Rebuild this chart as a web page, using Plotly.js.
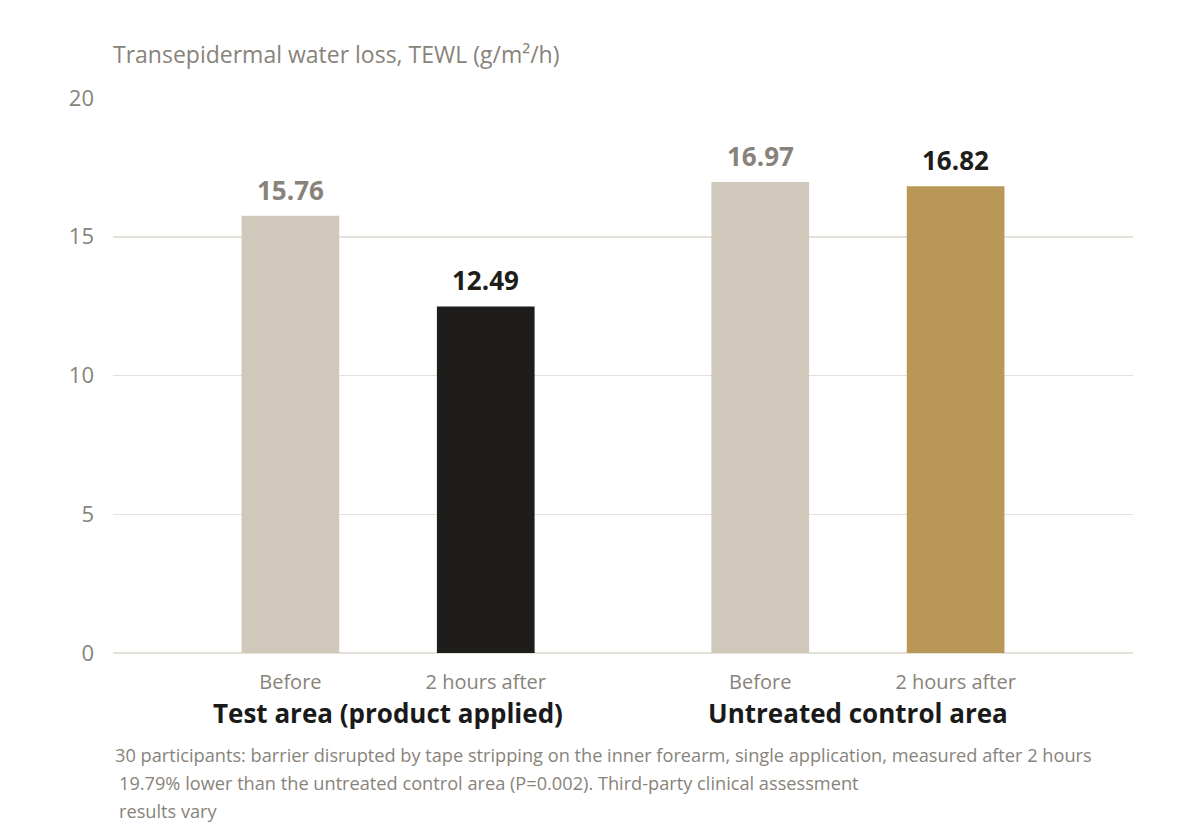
<!DOCTYPE html>
<html>
<head>
<meta charset="utf-8">
<script src="https://cdn.plot.ly/plotly-3.0.1.min.js"></script>
<style>
  html, body { margin: 0; padding: 0; background: #fff; }
  #chart { width: 1200px; height: 840px; }
</style>
</head>
<body>
<div id="chart"></div>
<script>
const groups = ['Test area (product applied)', 'Untreated control area'];
const categories = ['Before', '2 hours after'];
const tewlValues = [15.76, 12.49, 16.97, 16.82];
const valueLabels = ['15.76', '12.49', '16.97', '16.82'];
const barColors = ['#d0c9bb', '#1e1d1b', '#d0c9bb', '#b89757'];
const labelColors = ['#88837a', '#1e1d1b', '#88837a', '#1e1d1b'];
const footnoteLines = [
  '30 participants: barrier disrupted by tape stripping on the inner forearm, single application, measured after 2 hours',
  '19.79% lower than the untreated control area (P=0.002). Third-party clinical assessment',
  'results vary',
];

const FONT = 'Open Sans, Noto Sans, sans-serif';
const GREY = '#88837a';
const GROUP_STEP = 2.405;

// one x slot per bar, groups pushed apart
const xPos = [];
const tickText = [];
groups.forEach((g, gi) => {
  categories.forEach((c, ci) => {
    xPos.push(gi * GROUP_STEP + ci);
    tickText.push(c);
  });
});
const groupCenters = groups.map((g, gi) => gi * GROUP_STEP + (categories.length - 1) / 2);

// value labels above bars
const annotations = tewlValues.map((v, i) => ({
  text: valueLabels[i],
  x: xPos[i],
  xref: 'x',
  y: v,
  yref: 'y',
  xanchor: 'center',
  yanchor: 'bottom',
  yshift: 6,
  showarrow: false,
  font: { family: FONT, size: 26, color: labelColors[i], weight: 'bold' },
}));

groups.forEach((g, gi) => {
  annotations.push({
    text: g,
    x: groupCenters[gi],
    xref: 'x',
    y: -0.109,
    yref: 'paper',
    xanchor: 'center',
    yanchor: 'middle',
    showarrow: false,
    font: { family: FONT, size: 26, color: '#1a1a1a', weight: 'bold' },
  });
});

footnoteLines.forEach((line, i) => {
  annotations.push({
    text: line,
    x: 0,
    xref: 'paper',
    xshift: i === 0 ? 0 : 4,
    y: -0.1838 - i * 0.0505,
    yref: 'paper',
    xanchor: 'left',
    yanchor: 'middle',
    showarrow: false,
    font: { family: FONT, size: 18.2, color: GREY },
  });
});

Plotly.newPlot('chart', [{
  type: 'bar',
  x: xPos,
  y: tewlValues,
  width: 0.5,
  marker: { color: barColors },
  hoverinfo: 'skip',
}], {
  width: 1200,
  height: 840,
  margin: { t: 98, r: 67, b: 187, l: 113 },
  paper_bgcolor: '#fff',
  plot_bgcolor: '#fff',
  showlegend: false,
  title: {
    text: 'Transepidermal water loss, TEWL (g/m²/h)',
    x: 113 / 1200,
    xanchor: 'left',
    xref: 'container',
    y: 1 - 55 / 840,
    yanchor: 'middle',
    yref: 'container',
    font: { family: FONT, size: 23, color: GREY },
  },
  xaxis: {
    range: [-0.908, 4.313],
    tickvals: xPos,
    ticktext: tickText,
    showgrid: false,
    zeroline: false,
    showline: false,
    ticks: '',
    ticklabelstandoff: 15,
    tickfont: { family: FONT, size: 20, color: GREY },
  },
  yaxis: {
    range: [0, 20],
    tickvals: [0, 5, 10, 15, 20],
    showgrid: true,
    gridcolor: '#e4e1d8',
    gridwidth: 1.5,
    zeroline: true,
    zerolinecolor: '#e4e1d8',
    zerolinewidth: 1.5,
    showline: false,
    ticks: '',
    ticklabelstandoff: 18,
    tickfont: { family: FONT, size: 22, color: GREY },
  },
  annotations,
}, { displayModeBar: false, staticPlot: true });
</script>
</body>
</html>
